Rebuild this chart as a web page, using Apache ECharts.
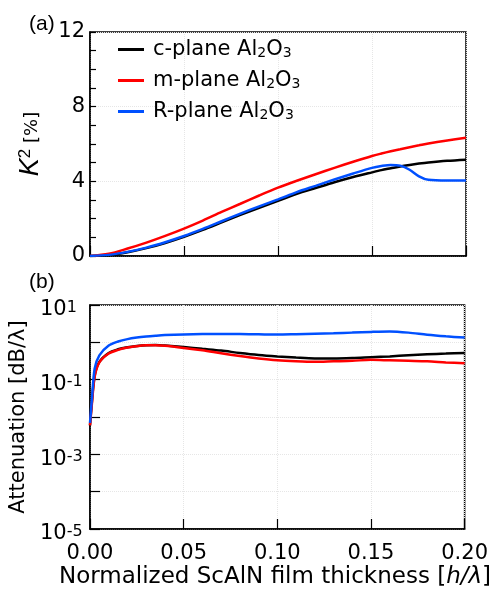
<!DOCTYPE html>
<html>
<head>
<meta charset="utf-8">
<script src="https://cdn.jsdelivr.net/npm/echarts@6/dist/echarts.min.js"></script>
<style>
html, body { margin: 0; padding: 0; background: #fff; }
#chart { width: 491px; height: 606px; }
</style>
</head>
<body>
<div id="chart"></div>
<script>
// (a) K^2 vs h/lambda
var thicknessA = [0, 0.01, 0.02, 0.03, 0.04, 0.05, 0.06, 0.07, 0.08, 0.09, 0.10, 0.11, 0.12, 0.13, 0.14, 0.15, 0.155, 0.16, 0.165, 0.17, 0.175, 0.18, 0.19, 0.20];
var k2C = [0, 0.05, 0.2, 0.42, 0.7, 1.03, 1.40, 1.80, 2.2, 2.58, 2.95, 3.33, 3.64, 3.95, 4.23, 4.48, 4.6, 4.7, 4.8, 4.88, 4.95, 5.01, 5.1, 5.16];
var k2M = [0, 0.12, 0.4, 0.72, 1.08, 1.47, 1.90, 2.36, 2.8, 3.24, 3.66, 4.03, 4.38, 4.72, 5.05, 5.36, 5.49, 5.61, 5.72, 5.83, 5.93, 6.03, 6.19, 6.33];
var k2R = [0, 0.06, 0.22, 0.45, 0.74, 1.07, 1.45, 1.86, 2.27, 2.66, 3.03, 3.42, 3.76, 4.1, 4.42, 4.72, 4.82, 4.88, 4.84, 4.62, 4.27, 4.08, 4.04, 4.05];

// (b) attenuation vs h/lambda
var thicknessB = [0, 0.001, 0.0025, 0.005, 0.01, 0.015, 0.02, 0.025, 0.03, 0.035, 0.04, 0.05, 0.06, 0.07, 0.08, 0.09, 0.10, 0.11, 0.12, 0.13, 0.14, 0.15, 0.16, 0.17, 0.18, 0.19, 0.20];
var attC = [0.006, 0.025, 0.13, 0.3, 0.52, 0.65, 0.74, 0.8, 0.84, 0.85, 0.82, 0.75, 0.67, 0.6, 0.52, 0.46, 0.42, 0.39, 0.37, 0.37, 0.38, 0.4, 0.42, 0.45, 0.48, 0.5, 0.52];
var attM = [0.006, 0.022, 0.12, 0.29, 0.5, 0.63, 0.73, 0.79, 0.83, 0.84, 0.81, 0.71, 0.61, 0.51, 0.43, 0.37, 0.33, 0.31, 0.30, 0.31, 0.32, 0.34, 0.33, 0.32, 0.31, 0.29, 0.275];
var attR = [0.007, 0.03, 0.2, 0.45, 0.82, 1.05, 1.22, 1.34, 1.43, 1.5, 1.56, 1.63, 1.67, 1.68, 1.67, 1.64, 1.61, 1.65, 1.70, 1.74, 1.82, 1.9, 1.95, 1.82, 1.6, 1.45, 1.34];

var seriesNames = ['c-plane Al2O3', 'm-plane Al2O3', 'R-plane Al2O3'];
var legendLabels = ['{f|c-plane Al}{s|2}{t|O}{s|3}', '{f|m-plane Al}{s|2}{t|O}{s|3}', '{f|R-plane Al}{s|2}{t|O}{s|3}'];
var lineColors = ['#000000', '#ff0000', '#0050ff'];

function pairs(xs, ys) {
    return xs.map(function (x, i) { return [x, ys[i]]; });
}

var chart = echarts.init(document.getElementById('chart'));

var gridLine = { show: true, lineStyle: { color: '#e6e6e6', type: 'dotted', width: 1 } };
var axisLineBlack = { show: true, lineStyle: { color: '#000', width: 1.5 } };
var tickStyle = { color: '#000', width: 1.2 };
var font = 'DejaVu Sans, sans-serif';
var fontArial = 'Liberation Sans, Arial, sans-serif';

var option = {
    animation: false,
    backgroundColor: '#fff',
    textStyle: { fontFamily: font, color: '#000' },
    grid: [
        { left: 90, top: 32, width: 376, height: 224, show: true, borderColor: '#000', borderWidth: 1.5 },
        { left: 90, top: 305, width: 376, height: 224, show: true, borderColor: '#000', borderWidth: 1.5 }
    ],
    legend: {
        orient: 'vertical',
        left: 113,
        top: 31,
        itemWidth: 26,
        itemHeight: 3,
        itemGap: 7,
        icon: 'rect',
        data: seriesNames,
        formatter: function (name) {
            return legendLabels[seriesNames.indexOf(name)];
        },
        textStyle: {
            fontFamily: font,
            color: '#000',
            rich: {
                f: { fontSize: 21, lineHeight: 21, verticalAlign: 'top', fontFamily: font, padding: [0, 0, 0, 4] },
                t: { fontSize: 21, lineHeight: 21, verticalAlign: 'top', fontFamily: font },
                s: { fontSize: 14, lineHeight: 14, verticalAlign: 'bottom', padding: [10, 0, 0, 0], fontFamily: font }
            }
        }
    },
    xAxis: [
        {
            gridIndex: 0, type: 'value', min: 0, max: 0.2, interval: 0.05,
            axisLine: axisLineBlack,
            axisTick: { show: true, inside: true, length: 10, lineStyle: tickStyle },
            axisLabel: { show: false },
            splitLine: gridLine
        },
        {
            gridIndex: 1, type: 'value', min: 0, max: 0.2, interval: 0.05,
            axisLine: axisLineBlack,
            axisTick: { show: true, inside: true, length: 10, lineStyle: tickStyle },
            axisLabel: {
                fontSize: 21, color: '#000', margin: 14, fontFamily: font,
                formatter: function (v) { return v.toFixed(2); }
            },
            splitLine: gridLine
        }
    ],
    yAxis: [
        {
            gridIndex: 0, type: 'value', min: 0, max: 12, interval: 4,
            axisLine: axisLineBlack,
            axisTick: { show: true, inside: true, length: 6, lineStyle: tickStyle },
            minorTick: { show: true, splitNumber: 4, length: 6, lineStyle: tickStyle },
            axisLabel: { fontSize: 21, color: '#000', margin: 5, fontFamily: font },
            splitLine: gridLine,
            name: '{k|K}{s|2}{p| [%]}',
            nameLocation: 'middle',
            nameRotate: 90,
            nameGap: 46,
            nameTextStyle: {
                rich: {
                    k: { fontSize: 27, fontStyle: 'italic', lineHeight: 27, verticalAlign: 'bottom', fontFamily: fontArial, color: '#000' },
                    s: { fontSize: 17, lineHeight: 17, verticalAlign: 'top', padding: [0, 0, 10, 0], fontFamily: fontArial, color: '#000' },
                    p: { fontSize: 18, lineHeight: 18, verticalAlign: 'bottom', padding: [0, 0, 3, 0], fontFamily: font, color: '#000' }
                }
            }
        },
        {
            gridIndex: 1, type: 'log', logBase: 10, min: 1e-5, max: 10, splitNumber: 6,
            axisLine: axisLineBlack,
            axisTick: { show: true, inside: true, length: 10, lineStyle: tickStyle },
            axisLabel: {
                align: 'left', margin: 50, padding: [10, 0, 0, 0],
                formatter: function (v) {
                    var e = Math.round(Math.log10(v));
                    if (Math.abs(e) % 2 !== 1) return '';
                    return '{b|10}{s|' + e + '}';
                },
                rich: {
                    b: { fontSize: 21, lineHeight: 21, verticalAlign: 'bottom', fontFamily: font, color: '#000' },
                    s: { fontSize: 16, lineHeight: 16, verticalAlign: 'top', padding: [0, 0, 10, 0], fontFamily: font, color: '#000' }
                }
            },
            splitLine: gridLine,
            name: 'Attenuation [dB/λ]',
            nameLocation: 'middle',
            nameRotate: 90,
            nameGap: 53,
            nameTextStyle: { fontSize: 21, color: '#000', fontFamily: font }
        }
    ],
    graphic: [
        { type: 'text', left: 29, top: 14, style: { text: '(a)', font: '21px ' + fontArial, fill: '#000' } },
        { type: 'text', left: 29, top: 272, style: { text: '(b)', font: '21px ' + fontArial, fill: '#000' } },
        {
            type: 'text', left: 59, top: 566,
            style: {
                text: '{n|Normalized ScAlN film thickness [}{i|h/λ}{n|]}',
                rich: {
                    n: { fontSize: 23, fontFamily: font, fill: '#000' },
                    i: { fontSize: 23, fontStyle: 'italic', fontFamily: font, fill: '#000' }
                }
            }
        }
    ],
    series: [
        { name: seriesNames[0], type: 'line', xAxisIndex: 0, yAxisIndex: 0, data: pairs(thicknessA, k2C), smooth: 0.3, showSymbol: false, lineStyle: { color: lineColors[0], width: 2.5 }, itemStyle: { color: lineColors[0] } },
        { name: seriesNames[1], type: 'line', xAxisIndex: 0, yAxisIndex: 0, data: pairs(thicknessA, k2M), smooth: 0.3, showSymbol: false, lineStyle: { color: lineColors[1], width: 2.5 }, itemStyle: { color: lineColors[1] } },
        { name: seriesNames[2], type: 'line', xAxisIndex: 0, yAxisIndex: 0, data: pairs(thicknessA, k2R), smooth: 0.3, showSymbol: false, lineStyle: { color: lineColors[2], width: 2.5 }, itemStyle: { color: lineColors[2] } },
        { name: seriesNames[0], type: 'line', xAxisIndex: 1, yAxisIndex: 1, data: pairs(thicknessB, attC), smooth: 0.3, showSymbol: false, lineStyle: { color: lineColors[0], width: 2.5 }, itemStyle: { color: lineColors[0] } },
        { name: seriesNames[1], type: 'line', xAxisIndex: 1, yAxisIndex: 1, data: pairs(thicknessB, attM), smooth: 0.3, showSymbol: false, lineStyle: { color: lineColors[1], width: 2.5 }, itemStyle: { color: lineColors[1] } },
        { name: seriesNames[2], type: 'line', xAxisIndex: 1, yAxisIndex: 1, data: pairs(thicknessB, attR), smooth: 0.3, showSymbol: false, lineStyle: { color: lineColors[2], width: 2.5 }, itemStyle: { color: lineColors[2] } }
    ]
};

chart.setOption(option);
</script>
</body>
</html>
